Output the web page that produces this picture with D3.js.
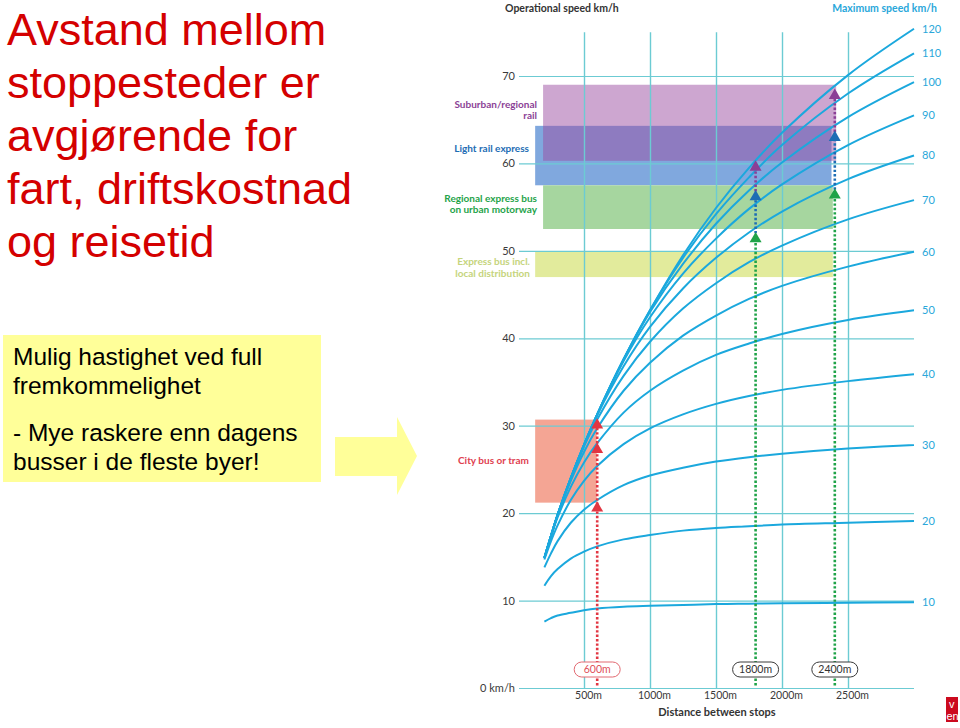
<!DOCTYPE html>
<html>
<head>
<meta charset="utf-8">
<script src="https://cdn.jsdelivr.net/npm/d3@7"></script>
<style>
  html, body { margin: 0; padding: 0; background: #fff; }
  svg { display: block; }
</style>
</head>
<body>
<script>
// ---------------- DATA ----------------
const titleLines = ["Avstand mellom", "stoppesteder er", "avgjørende for", "fart, driftskostnad", "og reisetid"];
const noteLines = ["Mulig hastighet ved full", "fremkommelighet", "- Mye raskere enn dagens", "busser i de fleste byer!"];

// distance between stops (m)
const distances = [200, 250, 300, 400, 500, 600, 800, 1000, 1250, 1500, 1750, 2000, 2500, 3000];
// maximum speed of each curve (km/h)
const maxSpeeds = [120, 110, 100, 90, 80, 70, 60, 50, 40, 30, 20, 10];
// operational speed (km/h)
const speed120 = [14.9, 17.4, 19.8, 24.0, 27.8, 31.3, 37.6, 43.2, 49.5, 54.9, 59.5, 63.5, 70.1, 75.4];
const speed110 = [14.9, 17.4, 19.8, 24.0, 27.8, 31.3, 37.6, 43.2, 49.2, 54.2, 58.4, 62.1, 68.0, 72.6];
const speed100 = [14.9, 17.4, 19.8, 24.0, 27.8, 31.3, 37.6, 43.0, 48.5, 53.1, 56.9, 60.1, 65.3, 69.3];
const speed90  = [14.9, 17.4, 19.8, 24.0, 27.8, 31.3, 37.4, 42.4, 47.4, 51.4, 54.8, 57.6, 62.1, 65.5];
const speed80  = [14.9, 17.4, 19.8, 24.0, 27.8, 31.2, 36.8, 41.3, 45.7, 49.2, 52.1, 54.5, 58.2, 60.9];
const speed70  = [14.9, 17.4, 19.8, 24.0, 27.6, 30.7, 35.7, 39.6, 43.4, 46.3, 48.7, 50.6, 53.6, 55.8];
const speed60  = [14.9, 17.4, 19.8, 23.7, 27.0, 29.7, 34.0, 37.2, 40.3, 42.6, 44.5, 46.0, 48.2, 49.9];
const speed50  = [14.9, 17.3, 19.5, 23.0, 25.8, 28.0, 31.5, 34.0, 36.3, 38.1, 39.4, 40.5, 42.1, 43.2];
const speed40  = [14.7, 16.8, 18.6, 21.5, 23.7, 25.4, 27.9, 29.7, 31.3, 32.5, 33.4, 34.1, 35.1, 35.9];
const speed30  = [13.8, 15.4, 16.8, 18.9, 20.4, 21.5, 23.2, 24.3, 25.2, 25.9, 26.4, 26.8, 27.4, 27.8];
const speed20  = [11.7, 12.8, 13.6, 14.8, 15.6, 16.2, 17.0, 17.5, 18.0, 18.3, 18.5, 18.7, 18.9, 19.1];
const speed10  = [7.6, 8.0, 8.3, 8.6, 8.9, 9.1, 9.3, 9.4, 9.5, 9.6, 9.65, 9.7, 9.75, 9.8];
const speedSeries = [speed120, speed110, speed100, speed90, speed80, speed70, speed60, speed50, speed40, speed30, speed20, speed10];

// y axis
const yTicks = [0, 10, 20, 30, 40, 50, 60, 70];
const yTickLabels = ["0 km/h", "10", "20", "30", "40", "50", "60", "70"];
// x axis
const xTicks = [500, 1000, 1500, 2000, 2500];
const xTickLabels = ["500m", "1000m", "1500m", "2000m", "2500m"];

// speed bands (mode of transport)
const bandLabels = [["Suburban/regional", "rail"], ["Light rail express"], ["Regional express bus", "on urban motorway"], ["Express bus incl.", "local distribution"], ["City bus or tram"]];
const bandFrom = [190, 130, 190, 130, 130];
const bandTo = [2410, 2375, 2385, 2385, 596];
const bandLow = [60.3, 57.5, 52.5, 47.0, 21.2];
const bandHigh = [69.0, 64.3, 57.5, 49.9, 30.7];

// stop distance examples
const stopDistances = [600, 1800, 2400];
const stopLabels = ["600m", "1800m", "2400m"];
// triangles: distance, speed, type
const markerDist  = [600, 600, 600, 1800, 1800, 1800, 2400, 2400, 2400];
const markerSpeed = [30.7, 27.9, 21.2, 60.2, 56.8, 52.0, 68.4, 63.6, 57.0];
const markerType  = ["red", "red", "red", "purple", "blue", "green", "purple", "blue", "green"];
// dotted segments: distance, from speed, to speed, type
const segDist = [600, 1800, 1800, 1800, 2400, 2400, 2400];
const segFrom = [0.3, 0.3, 52.0, 56.8, 0.3, 57.0, 63.6];
const segTo   = [30.7, 52.0, 56.8, 60.2, 57.0, 63.6, 68.4];
const segType = ["red", "green", "blue", "purple", "green", "blue", "purple"];

// ---------------- STYLE ----------------
const C = {
  grid: "#6ccbd3",
  curve: "#1ba8dd",
  cyanText: "#2aa7da",
  red: "#e23642", purple: "#8b3f96", blue: "#1d6db4", green: "#1fa348",
  title: "#d40000"
};
const bandFill = ["#9b4da1", "#80a8de", "#a6d69f", "#e2eb9c", "#f4a594"];
const bandOpacity = [0.5, 1, 1, 1, 1];
const bandTextColor = ["#8b3f96", "#1d6db4", "#25a34a", "#c5d47c", "#e0404f"];

const svg = d3.select("body").append("svg").attr("width", 960).attr("height", 728);

const x = d3.scaleLinear().domain([0, 3000]).range([518, 914]);
const y = d3.scaleLinear().domain([0, 70]).range([688, 76]);

const chartFont = "Lato, 'Open Sans', sans-serif";

// ---------------- LEFT TEXT ----------------
const title = svg.append("text")
  .attr("font-family", "'Liberation Sans', Arial, sans-serif")
  .attr("font-size", 45)
  .attr("fill", C.title);
titleLines.forEach((t, i) => {
  title.append("tspan").attr("x", 7).attr("y", 45 + i * 53).text(t);
});

svg.append("rect").attr("x", 3).attr("y", 335).attr("width", 318).attr("height", 147).attr("fill", "#ffff99");
const noteY = [365, 394, 441, 470];
const note = svg.append("text")
  .attr("font-family", "'Liberation Sans', Arial, sans-serif")
  .attr("font-size", 24.5)
  .attr("fill", "#000");
noteLines.forEach((t, i) => note.append("tspan").attr("x", 13).attr("y", noteY[i]).text(t));

// arrow
svg.append("path")
  .attr("d", "M335,437 L397,437 L397,417 L417,456 L397,495 L397,476 L335,476 Z")
  .attr("fill", "#ffff99");

// ---------------- BANDS ----------------
const bandOrder = [1, 0, 2, 3, 4]; // draw blue first, purple over it
bandOrder.forEach(i => {
  svg.append("rect")
    .attr("x", x(bandFrom[i]))
    .attr("y", y(bandHigh[i]))
    .attr("width", x(bandTo[i]) - x(bandFrom[i]))
    .attr("height", y(bandLow[i]) - y(bandHigh[i]))
    .attr("fill", bandFill[i])
    .attr("fill-opacity", bandOpacity[i]);
});

// ---------------- GRID / AXES ----------------
const yAxis = d3.axisLeft(y).tickValues(yTicks).tickSize(-(x(3000) - 519)).tickPadding(4)
  .tickFormat((d, i) => yTickLabels[i]);
const gy = svg.append("g").attr("transform", "translate(519,0)").call(yAxis);
gy.select(".domain").remove();
gy.selectAll(".tick line").attr("stroke", C.grid).attr("stroke-width", 1.2);
gy.selectAll(".tick text").attr("font-family", chartFont).attr("font-size", 11).attr("fill", "#3a3a3a");

const xAxis = d3.axisBottom(x).tickValues(xTicks).tickSize(-(y(0) - y(75))).tickPadding(4)
  .tickFormat((d, i) => xTickLabels[i]);
const gx = svg.append("g").attr("transform", `translate(0,${y(0)})`).call(xAxis);
gx.select(".domain").remove();
gx.selectAll(".tick line").attr("stroke", C.grid).attr("stroke-width", 1.4);
gx.selectAll(".tick text").attr("font-family", chartFont).attr("font-size", 10.5).attr("fill", "#3a3a3a").attr("dx", 4);

// ---------------- CURVES ----------------
const line = d3.line().x((d, i) => x(distances[i])).y(d => y(d)).curve(d3.curveCatmullRom.alpha(0.5));
speedSeries.forEach((s, k) => {
  svg.append("path").attr("d", line(s)).attr("fill", "none")
    .attr("stroke", C.curve).attr("stroke-width", 2);
  svg.append("text")
    .attr("x", x(3000) + 8).attr("y", y(s[s.length - 1]))
    .attr("dy", "0.35em")
    .attr("font-family", chartFont).attr("font-size", 11)
    .attr("fill", C.cyanText).text(maxSpeeds[k]);
});

// ---------------- DOTTED LINES & MARKERS ----------------
segDist.forEach((d, i) => {
  svg.append("line")
    .attr("x1", x(d)).attr("x2", x(d))
    .attr("y1", y(segFrom[i])).attr("y2", y(segTo[i]) + 6)
    .attr("stroke", C[segType[i]]).attr("stroke-width", 2.6)
    .attr("stroke-dasharray", "2.4,2");
});
const tri = d3.symbol().type(d3.symbolTriangle).size(62);
markerDist.forEach((d, i) => {
  svg.append("path")
    .attr("d", tri())
    .attr("transform", `translate(${x(d)},${y(markerSpeed[i]) + 5.5})`)
    .attr("fill", C[markerType[i]]);
});

// stop distance labels
stopDistances.forEach((d, i) => {
  const isRed = i === 0;
  const g = svg.append("g").attr("transform", `translate(${x(d)},669.5)`);
  g.append("rect").attr("x", -23).attr("y", -7.5).attr("width", 46).attr("height", 15)
    .attr("rx", 7.5).attr("fill", "#fff")
    .attr("stroke", isRed ? "#e26a72" : "#3a3a3a").attr("stroke-width", 1);
  g.append("text").attr("text-anchor", "middle").attr("dy", "0.36em")
    .attr("font-family", chartFont).attr("font-size", 10.5)
    .attr("fill", isRed ? "#e0505a" : "#333").text(stopLabels[i]);
});

// band labels
const bandLabelX = [537, 529, 537, 530, 529];
const bandLabelY = [104, 148, 198, 261.5, 460];
bandLabels.forEach((lines, i) => {
  const t = svg.append("text")
    .attr("text-anchor", "end")
    .attr("font-family", chartFont).attr("font-weight", "bold").attr("font-size", 10)
    .attr("fill", bandTextColor[i]);
  lines.forEach((l, j) => t.append("tspan").attr("x", bandLabelX[i]).attr("y", bandLabelY[i] + j * 11.5).attr("dy", "0.35em").text(l));
});

// headers
svg.append("text").attr("x", 505).attr("y", 8).attr("dy", "0.35em")
  .attr("font-family", chartFont).attr("font-weight", "bold").attr("font-size", 10.5)
  .attr("fill", "#333").text("Operational speed km/h");
svg.append("text").attr("x", 937).attr("y", 8).attr("dy", "0.35em").attr("text-anchor", "end")
  .attr("font-family", chartFont).attr("font-weight", "bold").attr("font-size", 10.5)
  .attr("fill", C.cyanText).text("Maximum speed km/h");
svg.append("text").attr("x", 717).attr("y", 712).attr("dy", "0.35em").attr("text-anchor", "middle")
  .attr("font-family", chartFont).attr("font-weight", "bold").attr("font-size", 11)
  .attr("fill", "#333").text("Distance between stops");

// logo fragment
svg.append("rect").attr("x", 946).attr("y", 697).attr("width", 12).attr("height", 25).attr("fill", "#cc0a1e");
svg.append("text").attr("x", 949).attr("y", 708).attr("font-family", "'Liberation Sans', Arial, sans-serif")
  .attr("font-size", 11).attr("fill", "#fff").text("v");
svg.append("text").attr("x", 946.5).attr("y", 720).attr("font-family", "'Liberation Sans', Arial, sans-serif")
  .attr("font-size", 11).attr("fill", "#fff").text("en");
</script>
</body>
</html>
